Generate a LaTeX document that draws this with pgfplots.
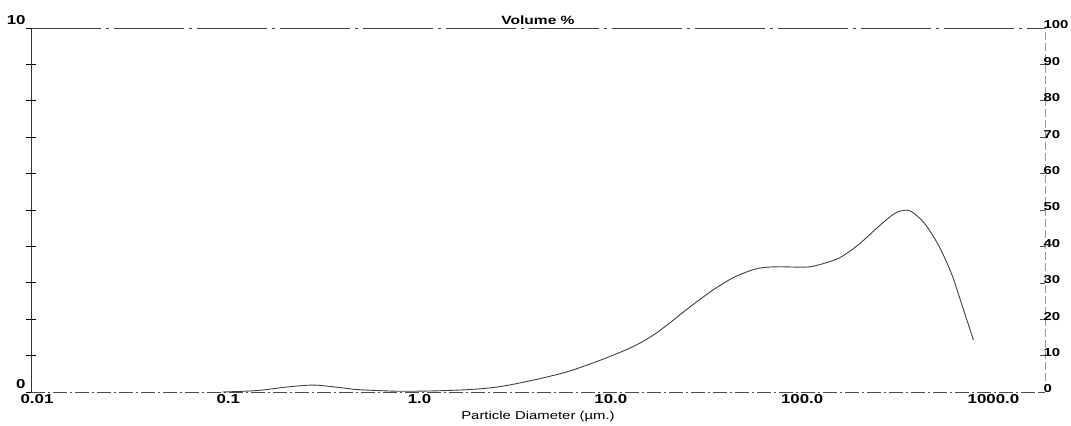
\documentclass[border=0pt]{standalone}
\usepackage{fontspec}
\setmainfont{Liberation Sans}[FakeStretch=1.3]
\usepackage{pgfplots}
\pgfplotsset{compat=1.18}
\begin{document}
\begin{tikzpicture}[x=1bp,y=1bp]
\begin{axis}[
  name=main,
  scale only axis,
  width=1014bp, height=364bp,
  xmode=log,
  xmin=0.01, xmax=2000,
  ymin=0, ymax=10,
  axis line style={black!80, line width=0.7bp},
  separate axis lines,
  axis x line*=bottom,
  axis y line*=left,
  x axis line style={dash pattern=on 14bp off 3bp on 2bp off 3bp, black!70},
  xtick={0.01,0.1,1,10,100,1000},
  xticklabels={0.01,0.1,1.0,10.0,100.0,1000.0},
  major x tick style={draw=none},
  xminorticks=false,
  ytick={0,1,...,10},
  yticklabels={0,,,,,,,,,,10},
  tick align=center,
  major tick length=10bp,
  y tick style={black, line width=0.9bp},
  xticklabel style={font=\fontsize{13}{14}\selectfont\bfseries, xshift=6bp, yshift=6bp},
  yticklabel style={font=\fontsize{13}{14}\selectfont\bfseries, yshift=8bp, xshift=3bp},
  /pgf/number format/assume math mode=true,
  xlabel={Particle Diameter (µm.)},
  xlabel style={font=\fontsize{11.5}{12}\selectfont, yshift=-1bp},
  title={Volume \%},
  title style={font=\fontsize{12}{13}\selectfont\bfseries, yshift=-6bp},
  clip=false,
]
\addplot[black!75, line width=0.9bp, smooth] coordinates {
(0.1,0.0) (0.152,0.04) (0.22,0.14) (0.30,0.19) (0.40,0.13) (0.50,0.07)
(0.65,0.04) (0.86,0.02) (1.27,0.03) (2.0,0.07) (2.85,0.15) (4.25,0.33)
(6.40,0.56) (9.53,0.88) (13.7,1.22) (17.4,1.52) (21.4,1.86) (28.2,2.36)
(37.2,2.82) (47.3,3.15) (60.3,3.37) (71.3,3.43) (85,3.44) (106,3.43)
(124,3.46) (166,3.67) (211,4.04) (269,4.54) (326,4.90) (367,4.99)
(400,4.96) (468,4.64) (554,4.04) (648,3.26) (731,2.44) (845,1.43)
};
\draw[black!75, line width=0.6bp, dash pattern=on 70bp off 5bp on 3bp off 5bp]
  (rel axis cs:0,1) -- (rel axis cs:1,1);
\end{axis}
\begin{axis}[
  scale only axis,
  width=1014bp, height=364bp,
  xmode=log, xmin=0.01, xmax=2000,
  ymin=0, ymax=100,
  axis x line=none,
  axis y line*=right,
  axis line style={black!40, line width=0.6bp, dash pattern=on 8bp off 3bp},
  ytick={0,10,...,100},
  tick align=inside,
  major tick length=5bp,
  y tick style={black!70, line width=0.6bp},
  yticklabel style={font=\fontsize{11.5}{12}\selectfont\bfseries, xshift=-5bp, yshift=3bp},
  /pgf/number format/assume math mode=true,
]
\end{axis}
\pgfresetboundingbox
\path[use as bounding box] (main.south west) ++(-31bp,-33bp) rectangle ([xshift=26bp,yshift=28bp]main.north east);
\end{tikzpicture}
\end{document}
